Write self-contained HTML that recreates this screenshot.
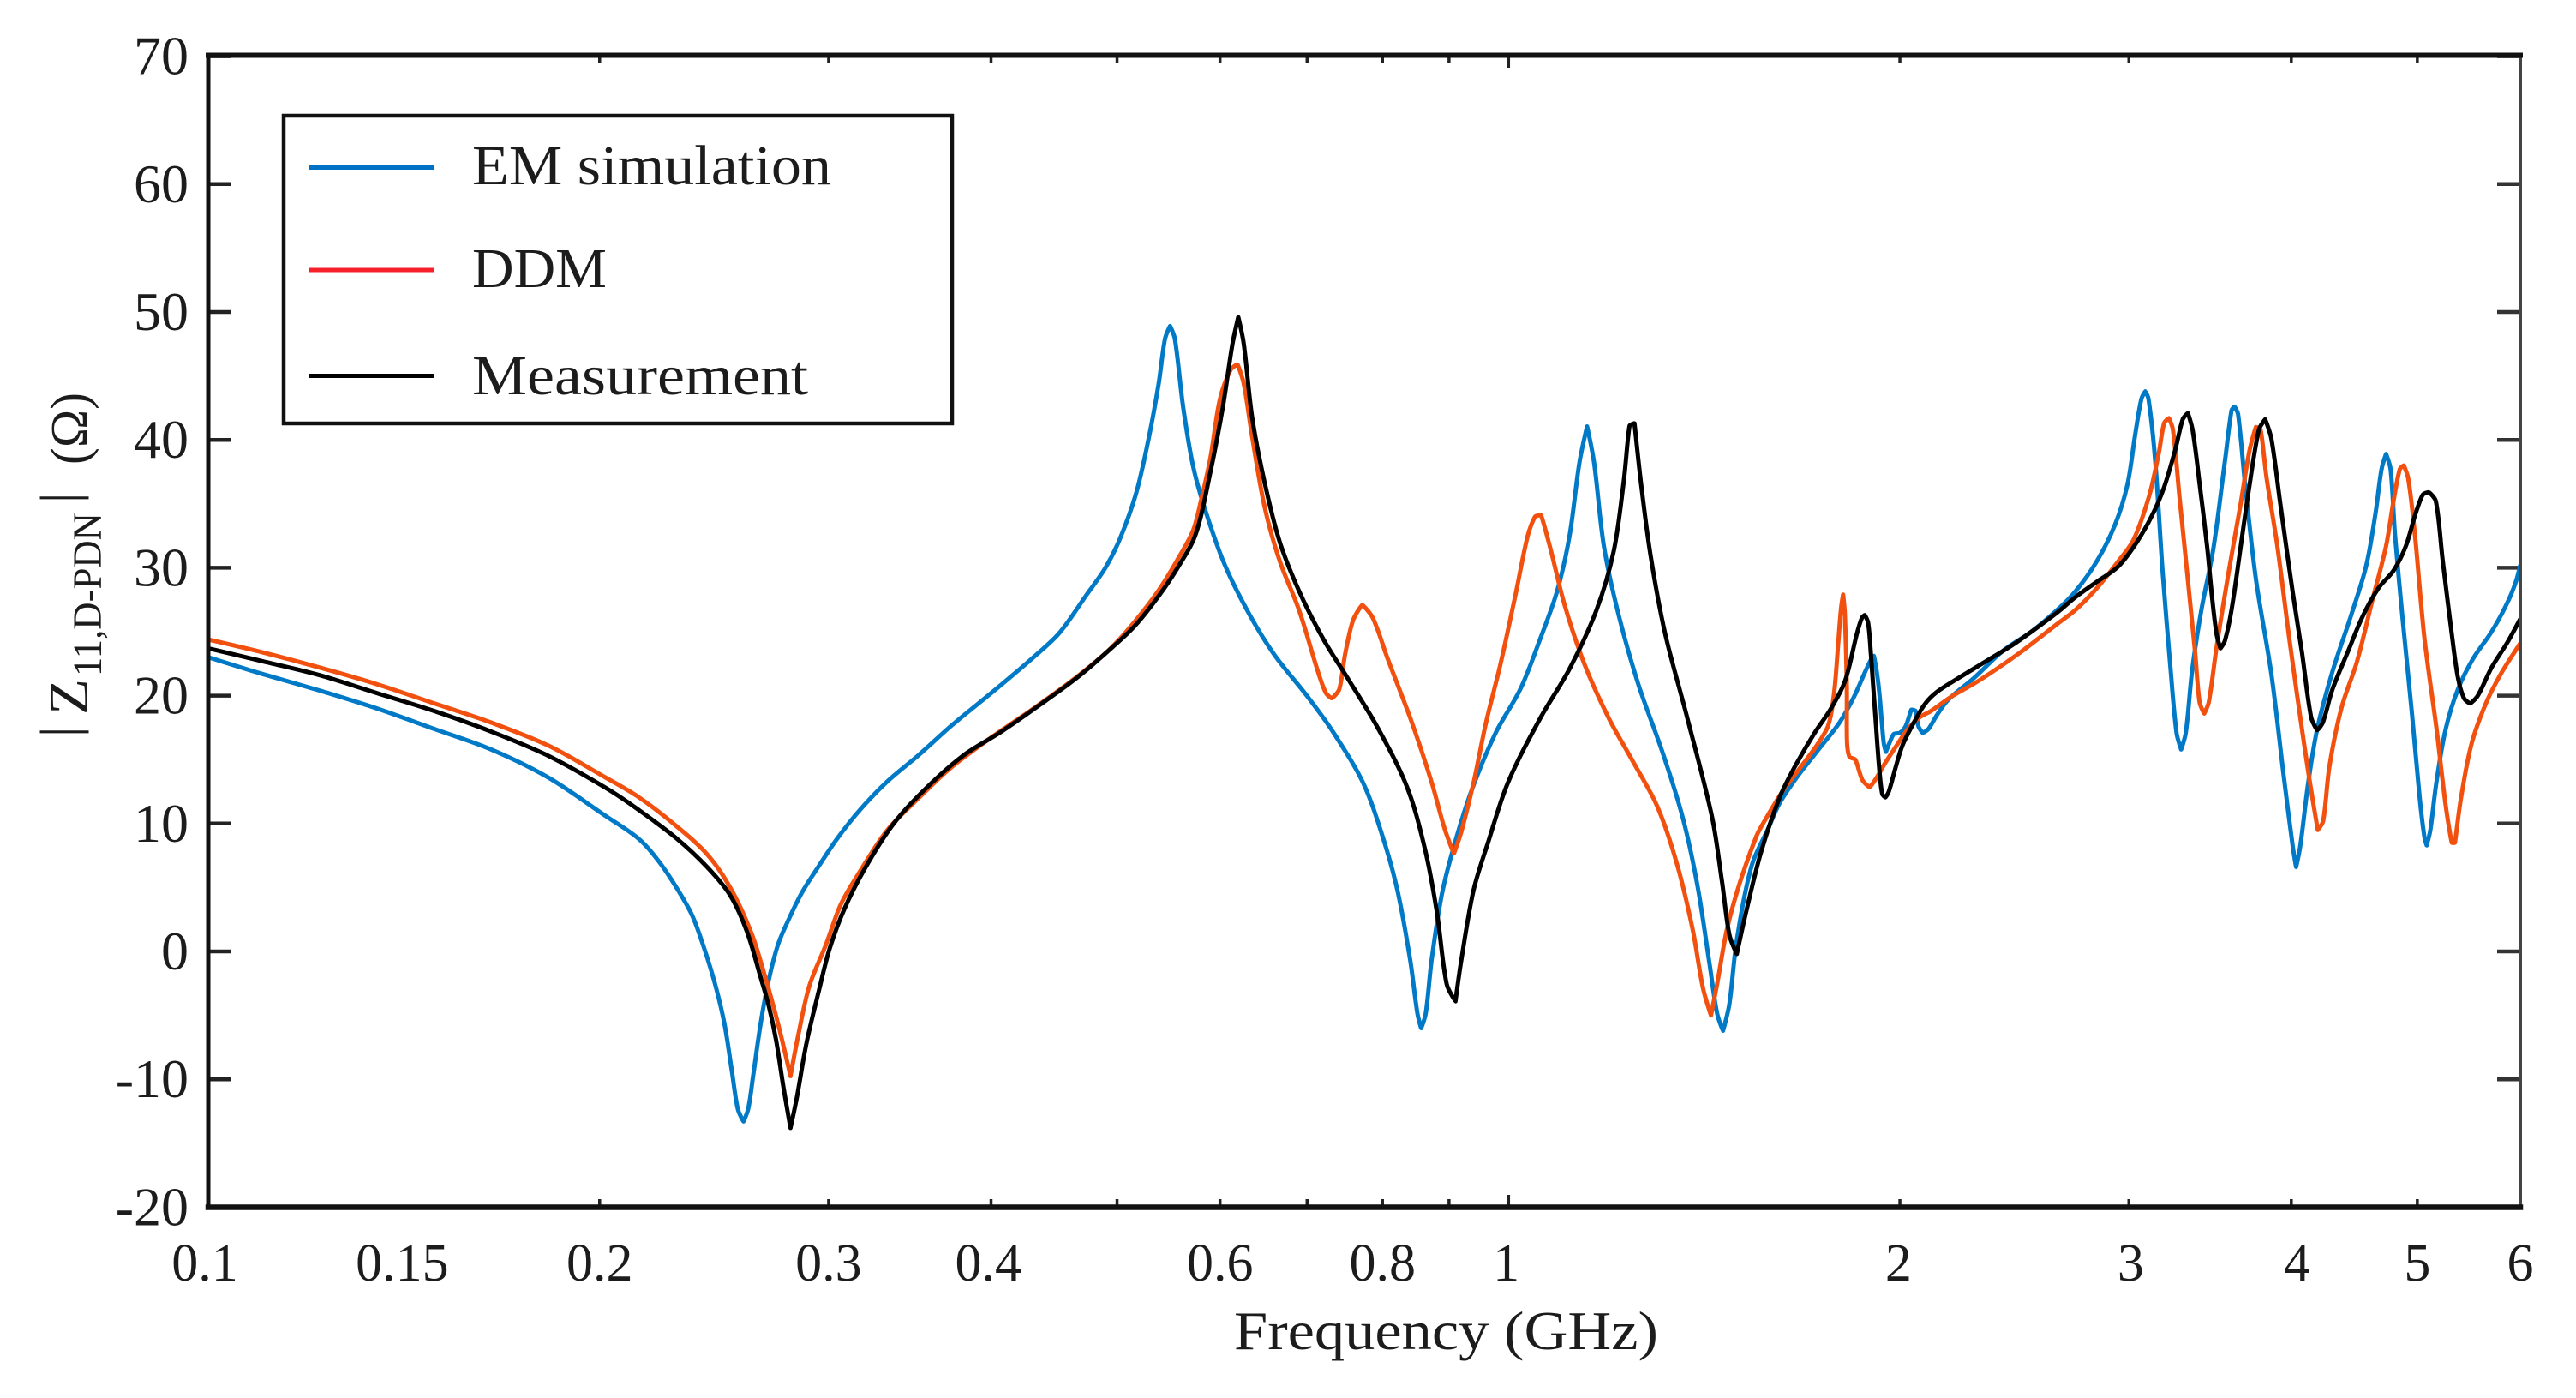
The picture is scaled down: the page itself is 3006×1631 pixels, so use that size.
<!DOCTYPE html>
<html>
<head>
<meta charset="utf-8">
<title>Z11 D-PDN impedance chart</title>
<style>
html,body{margin:0;padding:0;background:#fff;width:3006px;height:1631px;overflow:hidden}
svg{display:block}
text{font-family:"Liberation Serif","DejaVu Serif",serif;fill:#1c1c1c}
</style>
</head>
<body>
<svg id="chart" xmlns="http://www.w3.org/2000/svg" width="3006" height="1631" viewBox="0 0 3006 1631">
  <rect x="0" y="0" width="3006" height="1631" fill="#ffffff"/>
  <defs>
    <clipPath id="plot-clip"><rect x="243" y="65" width="2698" height="1344"/></clipPath>
  </defs>
  <g id="grid-ticks"></g>
  <g id="series" clip-path="url(#plot-clip)"></g>
  <g stroke-linecap="square">
    <line x1="243" y1="65" x2="243" y2="1408" stroke="#111" stroke-width="5"/>
    <line x1="2941" y1="65" x2="2941" y2="1408" stroke="#444" stroke-width="4"/>
    <line x1="243" y1="64.5" x2="2941" y2="64.5" stroke="#111" stroke-width="6"/>
    <line x1="243" y1="1408.5" x2="2941" y2="1408.5" stroke="#111" stroke-width="6.5"/>
  </g>
  <g id="tick-labels"></g>

  <g>
    <rect x="331" y="135" width="780" height="359" fill="#fff" stroke="#111" stroke-width="4.5"/>
    <line x1="360" y1="195.5" x2="507" y2="195.5" stroke="#0072c6" stroke-width="5"/>
    <text x="551" y="215" font-size="66" textLength="419" lengthAdjust="spacingAndGlyphs">EM simulation</text>
    <line x1="360" y1="315" x2="507" y2="315" stroke="#f5202a" stroke-width="5"/>
    <text x="551" y="335" font-size="66" textLength="157" lengthAdjust="spacingAndGlyphs">DDM</text>
    <line x1="360" y1="438.5" x2="507" y2="438.5" stroke="#000" stroke-width="5"/>
    <text x="551" y="460" font-size="66" textLength="392" lengthAdjust="spacingAndGlyphs">Measurement</text>
  </g>

  <text x="1440" y="1574" font-size="64" textLength="495" lengthAdjust="spacingAndGlyphs">Frequency (GHz)</text>

  <g>
    <text transform="translate(90 860) rotate(-90)" font-size="62">|</text>
    <text transform="translate(102 834) rotate(-90)" font-size="66" textLength="42" lengthAdjust="spacingAndGlyphs">Z</text>
    <text transform="translate(118 789) rotate(-90)" font-size="48" textLength="191" lengthAdjust="spacingAndGlyphs">11,D-PDN</text>
    <text transform="translate(90 587) rotate(-90)" font-size="62">|</text>
    <text transform="translate(102 542) rotate(-90)" font-size="62" textLength="84" lengthAdjust="spacingAndGlyphs">(Ω)</text>
  </g>
</svg>
<script>
const yTicks = [-20,-10,0,10,20,30,40,50,60,70];
const xMinorTicks = [0.2,0.3,0.4,0.5,0.6,0.7,0.8,0.9,2,3,4,5];
const xMajorTicks = [1];
const xLabelTexts = ["0.1","0.15","0.2","0.3","0.4","0.6","0.8","1","2","3","4","5","6"];
const xLabelAt = [0.0994,0.141,0.2,0.3,0.398,0.6,0.8,0.996,1.995,3.01,4.04,5.0,6.0];

const emFreq = [0.1,0.11,0.1218,0.1348,0.1492,0.165,0.1826,0.2021,0.2141,0.2215,0.2291,0.2354,0.2402,0.2451,0.2494,0.2528,0.2554,0.258,0.2602,0.2624,0.266,0.2696,0.2742,0.2798,0.2865,0.2945,0.3047,0.3173,0.3329,0.3523,0.3733,0.4023,0.4306,0.4514,0.4731,0.4898,0.5027,0.5174,0.529,0.5382,0.5443,0.5492,0.5539,0.5622,0.5722,0.585,0.6052,0.6325,0.6606,0.7022,0.7336,0.7728,0.8,0.8213,0.84,0.851,0.8567,0.8636,0.8729,0.8884,0.9077,0.936,0.9775,1.021,1.0573,1.09,1.1141,1.1337,1.1493,1.1637,1.184,1.2155,1.2585,1.3144,1.3612,1.3973,1.4279,1.447,1.4622,1.4787,1.4984,1.5383,1.5837,1.6165,1.666,1.7258,1.7974,1.8436,1.8813,1.8999,1.9099,1.9196,1.929,1.937,1.9437,1.9509,1.9634,1.9784,2.0,2.0202,2.0408,2.0564,2.0668,2.0825,2.1038,2.136,2.1796,2.2814,2.3999,2.5241,2.6419,2.729,2.834,2.928,2.992,3.033,3.067,3.088,3.106,3.143,3.185,3.229,3.264,3.291,3.318,3.355,3.408,3.484,3.56,3.598,3.617,3.64,3.686,3.757,3.861,3.946,4.009,4.034,4.065,4.121,4.188,4.303,4.444,4.566,4.641,4.693,4.731,4.769,4.807,4.874,4.953,5.02,5.062,5.084,5.117,5.173,5.258,5.373,5.52,5.703,5.86,5.953,6.0];
const emZ = [23.0,21.7,20.4,19.0,17.4,15.8,13.6,10.6,8.85,7.2,5.0,2.9,0.5,-2.4,-5.6,-9.4,-12.3,-13.3,-12.3,-9.8,-5.6,-2.4,0.5,2.6,4.7,6.6,8.85,11.1,13.3,15.4,17.7,20.4,22.95,24.9,27.8,30.0,32.3,35.9,40.2,44.4,47.9,48.9,47.9,42.5,37.9,34.4,30.2,26.3,23.2,19.8,17.1,13.2,9.0,4.8,-0.6,-4.85,-6.0,-4.85,-0.6,4.4,8.2,12.5,17.1,20.5,24.4,28.2,32.5,38.2,41.05,38.2,31.7,26.3,20.9,15.5,10.5,5.2,-1.0,-4.85,-6.2,-4.1,0.9,6.7,9.6,11.6,13.6,15.6,17.9,19.9,21.9,22.8,23.1,21.9,20.1,17.9,16.3,15.6,16.3,17.0,17.1,17.6,18.9,18.8,17.6,17.1,17.4,18.5,19.7,21.4,23.5,25.0,26.7,28.15,30.5,33.4,36.5,40.35,43.2,43.8,43.2,38.4,29.6,22.2,17.1,15.8,17.1,21.9,26.5,31.5,38.7,42.3,42.6,42.0,36.5,29.1,21.7,13.8,8.3,6.6,8.3,13.1,17.4,21.9,26.2,30.1,34.1,37.7,38.9,37.7,32.5,25.8,18.6,12.1,9.0,8.3,9.5,13.3,17.4,20.5,22.9,25.0,27.2,28.9,30.2];

const ddmFreq = [0.1,0.11,0.1218,0.1348,0.1492,0.165,0.1826,0.2021,0.2141,0.2291,0.2419,0.252,0.2615,0.2676,0.2742,0.2804,0.2843,0.2899,0.2985,0.3066,0.3173,0.3329,0.3523,0.3733,0.4023,0.4306,0.464,0.4932,0.5165,0.5383,0.5566,0.572,0.58,0.5899,0.6,0.6115,0.6188,0.6258,0.6352,0.6492,0.6665,0.69,0.7145,0.7238,0.7313,0.741,0.7486,0.7594,0.7718,0.7862,0.8073,0.843,0.8729,0.8929,0.9077,0.92,0.94,0.9607,0.986,1.0122,1.0346,1.0482,1.0592,1.0758,1.1044,1.1436,1.1949,1.2475,1.3021,1.3489,1.3857,1.4115,1.4314,1.447,1.4723,1.5047,1.5513,1.5758,1.6244,1.6745,1.7261,1.7612,1.7795,1.7931,1.802,1.8087,1.8142,1.8205,1.8215,1.8293,1.848,1.8716,1.8958,1.9196,1.9489,1.9884,2.0291,2.0705,2.113,2.1892,2.3024,2.4608,2.6419,2.729,2.834,2.944,3.025,3.109,3.162,3.193,3.22,3.243,3.283,3.337,3.373,3.4,3.428,3.456,3.504,3.579,3.655,3.715,3.757,3.788,3.829,3.902,3.988,4.076,4.143,4.192,4.232,4.28,4.372,4.493,4.616,4.731,4.795,4.847,4.881,4.92,4.98,5.062,5.173,5.258,5.315,5.344,5.4,5.503,5.641,5.797,6.0];
const ddmZ = [24.4,23.4,22.2,20.9,19.4,17.9,16.1,13.6,12.1,9.8,7.6,5.0,1.5,-1.7,-5.6,-9.75,-6.55,-2.7,0.5,3.7,6.3,9.5,12.05,14.45,16.9,18.95,21.35,23.6,25.85,28.25,30.65,32.9,35.2,38.6,43.2,45.5,45.9,44.4,40.2,34.8,30.6,26.7,21.7,20.2,19.8,20.5,23.2,25.9,27.1,26.1,22.9,17.85,13.2,9.6,7.65,9.4,13.2,17.85,22.5,27.85,32.5,34.0,34.1,31.7,27.1,22.5,18.2,14.8,11.3,6.7,1.7,-2.9,-5.0,-2.55,1.7,5.2,9.0,10.3,12.5,14.3,16.1,17.65,20.1,24.1,26.8,27.9,26.4,20.8,16.3,15.2,15.0,13.4,12.85,13.6,14.75,16.1,17.4,18.3,18.8,19.9,21.2,23.2,25.6,26.7,28.4,30.5,32.2,35.6,38.9,41.3,41.7,40.8,35.3,28.15,23.4,19.5,18.6,19.5,23.8,29.6,34.9,39.2,41.0,40.8,37.0,31.7,24.3,17.4,12.6,9.5,10.2,14.5,19.05,22.65,27.4,31.7,35.3,37.7,38.0,37.0,32.5,24.6,17.4,11.4,8.5,8.5,11.9,16.2,19.3,21.7,24.1];

const measFreq = [0.1,0.11,0.1218,0.1348,0.1492,0.165,0.1826,0.2021,0.2141,0.2291,0.2419,0.252,0.2597,0.266,0.2696,0.2733,0.277,0.2804,0.2836,0.2884,0.2945,0.3005,0.3087,0.3216,0.3372,0.356,0.3806,0.4075,0.4364,0.467,0.496,0.5165,0.5383,0.5566,0.5746,0.5899,0.6028,0.6134,0.6197,0.6258,0.6352,0.6492,0.6665,0.69,0.7206,0.7528,0.7932,0.8356,0.8616,0.8805,0.8962,0.9103,0.92,0.94,0.9649,0.999,1.0573,1.1141,1.1687,1.2048,1.2262,1.2392,1.2499,1.2642,1.2864,1.3202,1.373,1.4341,1.4595,1.4787,1.4984,1.5241,1.5644,1.6165,1.6576,1.7175,1.7704,1.8156,1.8528,1.8701,1.8793,1.8906,1.9,1.9147,1.929,1.9386,1.9494,1.9612,1.9838,2.0091,2.0502,2.0922,2.136,2.2243,2.3392,2.4608,2.6419,2.729,2.834,2.944,3.042,3.126,3.193,3.256,3.3,3.33,3.358,3.398,3.447,3.476,3.504,3.528,3.556,3.598,3.655,3.715,3.777,3.819,3.861,3.924,4.009,4.076,4.143,4.188,4.23,4.303,4.42,4.539,4.667,4.795,4.9,4.98,5.048,5.103,5.167,5.231,5.315,5.373,5.431,5.49,5.565,5.703,5.86,6.0];
const measZ = [23.7,22.7,21.6,20.2,18.8,17.2,15.3,12.8,11.1,8.85,6.6,4.4,1.5,-2.05,-4.1,-6.9,-10.7,-13.8,-11.4,-7.2,-3.3,0.2,3.4,6.9,10.1,12.7,15.3,17.2,19.3,21.5,23.8,25.5,27.8,30.0,32.6,37.5,42.5,47.5,49.6,47.5,41.7,36.7,32.1,28.2,24.4,21.3,17.5,12.85,8.2,3.2,-2.55,-3.9,-0.6,4.8,8.6,13.2,18.2,22.1,26.7,31.3,36.7,41.1,41.3,36.7,30.9,24.8,18.2,10.5,5.5,1.3,-0.2,3.2,7.8,12.05,14.3,17.0,19.0,21.2,24.8,26.1,26.3,25.7,23.2,18.5,14.1,12.3,12.05,12.5,14.3,16.1,17.9,19.4,20.3,21.45,22.8,24.2,26.5,27.7,28.9,30.1,32.0,34.1,36.3,39.2,41.6,42.1,40.8,36.8,31.5,27.7,24.8,23.7,24.3,26.7,31.5,36.5,40.8,41.6,40.1,34.9,28.15,23.4,18.3,17.3,17.9,20.5,23.4,26.2,28.4,29.8,31.7,34.1,35.7,35.9,35.2,30.5,24.8,21.4,19.8,19.4,20.0,22.2,24.1,26.0];

const NS = "http://www.w3.org/2000/svg";
function xScale(f){ return 243 + 1517.3 * Math.log10(f / 0.1); }
function yScale(v){ return 1110 - 14.92 * v; }

const tickGroup = document.getElementById("grid-ticks");
const labelGroup = document.getElementById("tick-labels");
const seriesGroup = document.getElementById("series");

function makeLine(x1, y1, x2, y2, color, width){
  const l = document.createElementNS(NS, "line");
  l.setAttribute("x1", x1);
  l.setAttribute("y1", y1);
  l.setAttribute("x2", x2);
  l.setAttribute("y2", y2);
  l.setAttribute("stroke", color);
  l.setAttribute("stroke-width", width);
  return l;
}

yTicks.forEach(function(v){
  const y = yScale(v);
  const left = makeLine(243, y, 269, y, "#222", 4.5);
  
  
  tickGroup.appendChild(left);
  const right = makeLine(2914, y, 2941, y, "#333", 4.5);
  
  
  tickGroup.appendChild(right);
  const t = document.createElementNS(NS, "text");
  t.setAttribute("x", 220);
  t.setAttribute("y", y + 21);
  t.setAttribute("text-anchor", "end");
  t.setAttribute("font-size", 64);
  t.textContent = String(v);
  
  
  labelGroup.appendChild(t);
});

xMinorTicks.forEach(function(f){
  const x = xScale(f);
  const bottom = makeLine(x, 1408, x, 1399, "#222", 3.5);
  
  
  tickGroup.appendChild(bottom);
  const top = makeLine(x, 65, x, 73, "#222", 3.5);
  
  
  tickGroup.appendChild(top);
});

xMajorTicks.forEach(function(f){
  const x = xScale(f);
  const bottom = makeLine(x, 1408, x, 1394, "#222", 3.5);
  
  
  tickGroup.appendChild(bottom);
  const top = makeLine(x, 65, x, 79, "#222", 3.5);
  
  
  tickGroup.appendChild(top);
});

xLabelTexts.forEach(function(label, i){
  const t = document.createElementNS(NS, "text");
  t.setAttribute("x", xScale(xLabelAt[i]));
  t.setAttribute("y", 1494);
  t.setAttribute("text-anchor", "middle");
  t.setAttribute("font-size", 62);
  t.textContent = label;
  
  
  labelGroup.appendChild(t);
});

function smoothPath(px, py){
  const n = px.length;
  const ux = [], uy = [], k = [];
  for (let i = 0; i < n; i++){
    const a = Math.max(i - 1, 0), b = Math.min(i + 1, n - 1);
    const dx = px[b] - px[a], dy = py[b] - py[a];
    const len = Math.hypot(dx, dy) || 1;
    ux.push(dx / len);
    uy.push(dy / len);
    const l1 = Math.hypot(px[i] - px[a], py[i] - py[a]) || 1;
    const l2 = Math.hypot(px[b] - px[i], py[b] - py[i]) || 1;
    const cos = (i > 0 && i < n - 1) ? ((px[i] - px[a]) * (px[b] - px[i]) + (py[i] - py[a]) * (py[b] - py[i])) / (l1 * l2) : 1;
    const flat = (cos + 1) / 2;
    k.push(0.33 * flat * flat);
  }
  let d = "M" + px[0].toFixed(1) + " " + py[0].toFixed(1);
  for (let i = 0; i < n - 1; i++){
    const seg = Math.hypot(px[i+1] - px[i], py[i+1] - py[i]);
    d += "C" + (px[i] + ux[i] * seg * k[i]).toFixed(1) + " " + (py[i] + uy[i] * seg * k[i]).toFixed(1) +
         " " + (px[i+1] - ux[i+1] * seg * k[i+1]).toFixed(1) + " " + (py[i+1] - uy[i+1] * seg * k[i+1]).toFixed(1) +
         " " + px[i+1].toFixed(1) + " " + py[i+1].toFixed(1);
  }
  return d;
}

function drawSeries(freq, values, color){
  const p = document.createElementNS(NS, "path");
  p.setAttribute("d", smoothPath(freq.map(xScale), values.map(yScale)));
  p.setAttribute("fill", "none");
  p.setAttribute("stroke", color);
  p.setAttribute("stroke-width", 5);
  p.setAttribute("stroke-linejoin", "round");
  p.setAttribute("stroke-linecap", "round");
  seriesGroup.appendChild(p);
  return p;
}

const emLine = drawSeries(emFreq, emZ, "#007ac7");


const ddmLine = drawSeries(ddmFreq, ddmZ, "#f2500f");


const measLine = drawSeries(measFreq, measZ, "#000000");


</script>
</body>
</html>
